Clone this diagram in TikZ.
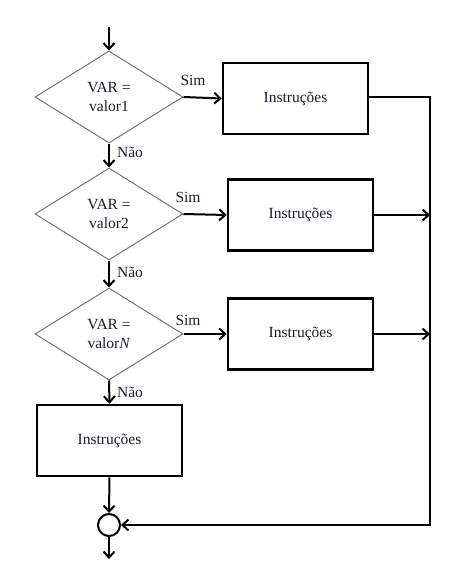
\documentclass[tikz,border=0pt]{standalone}
\usepackage{fontspec}
\setmainfont{Liberation Serif}
\usetikzlibrary{shapes.geometric,arrows.meta}
\definecolor{txt}{RGB}{28,28,45}
\begin{document}
\begin{tikzpicture}[x=1pt,y=-1pt,
  font=\fontsize{15.5}{19}\selectfont,
  conn/.style={line width=2pt,-{Straight Barb[length=6pt,width=11pt,line width=2pt]}},
  dec/.style={diamond,draw=black!55,line width=1pt,text=txt,aspect=1.6,inner sep=0pt,
    minimum width=148pt,minimum height=92pt,align=center},
  box/.style={rectangle,draw,line width=2.6pt,text=txt,minimum width=145pt,minimum height=71pt,inner sep=0pt},
  lbl/.style={inner sep=0pt,text=txt}
]
\useasboundingbox (0,0) rectangle (465,586);
\coordinate (start) at (109,27);
\node[dec] (d1) at (109,97) {VAR =\\valor1};
\node[box] (b1) at (295.5,98.5) {Instruções};
\node[dec] (d2) at (109,214) {VAR =\\valor2};
\node[box] (b2) at (300.5,215) {Instruções};
\node[dec] (d3) at (109,334) {VAR =\\valor\textit{N}};
\node[box] (b3) at (300.5,334) {Instruções};
\node[box] (b4) at (109.5,440.5) {Instruções};
\node[circle,draw,line width=2pt,minimum size=22pt,inner sep=0pt] (c) at (109,525) {};
\coordinate (end) at (109,559);
\coordinate (rail) at (430,0);

\node[lbl] (s1) at (193,80) {Sim};
\node[lbl] (s2) at (188,197) {Sim};
\node[lbl] (s3) at (188,320) {Sim};
\node[lbl] (n1) at (130,152) {Não};
\node[lbl] (n2) at (130,272) {Não};
\node[lbl] (n3) at (130,392) {Não};

\draw[conn] (start) -- (d1.north);
\draw[conn] (d1.south) -- (d2.north);
\draw[conn] (d2.south) -- (d3.north);
\draw[conn] (d3.south) -- (b4.north);
\draw[conn] (b4.south) -- (c.north);
\draw[conn] (c.south) -- (end);
\draw[conn] (d1.east) -- (b1.west);
\draw[conn] (d2.east) -- (b2.west);
\draw[conn] (d3.east) -- (b3.west);
\draw[conn,line join=miter] ([yshift=1.2pt]b1.east) -| (rail |- c) -- (c.east);
\draw[conn] (b2.east) -- (rail |- b2.east);
\draw[conn] (b3.east) -- (rail |- b3.east);
\end{tikzpicture}
\end{document}
